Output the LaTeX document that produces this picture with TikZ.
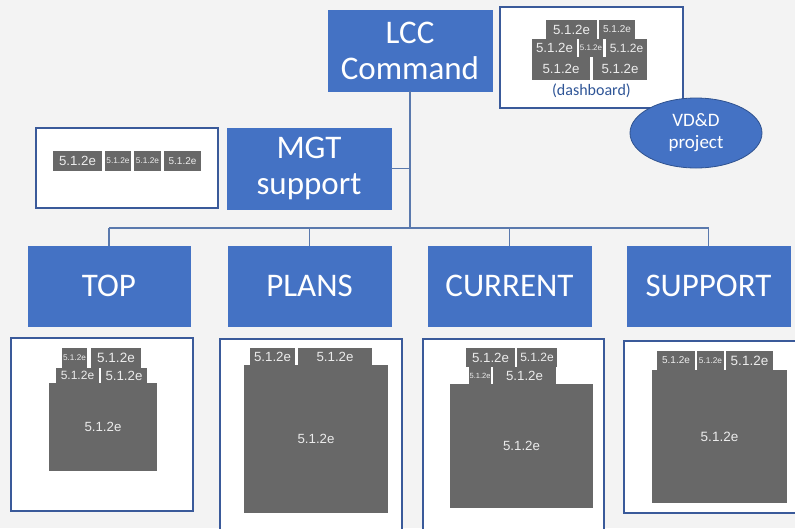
\documentclass[tikz,border=0pt]{standalone}
\usepackage{fontspec}
\setmainfont{Carlito}
\newfontfamily\arialf{Liberation Sans}
\usetikzlibrary{shapes.geometric}
\definecolor{bg}{HTML}{F3F3F3}
\definecolor{bl}{HTML}{4472C4}
\definecolor{bld}{HTML}{2F528F}
\definecolor{ln}{HTML}{5A79AD}
\definecolor{wbd}{HTML}{3A5A9A}
\definecolor{gb}{HTML}{686868}
\definecolor{gt}{HTML}{ECECEC}
\definecolor{dtxt}{HTML}{2F5597}
\tikzset{
  bluebox/.style={rectangle, fill=bl, draw=bl, text=white, inner sep=0pt, align=center,
    font=\fontsize{33}{36}\selectfont},
  whitebox/.style={rectangle, fill=white, draw=wbd, line width=1.2pt, inner sep=0pt},
  gblk/.style={rectangle, fill=gb, text=gt, inner sep=0pt},
  conn/.style={draw=ln, line width=1.2pt},
}
\newcommand{\gfs}[1]{\arialf\fontsize{#1}{#1}\selectfont}
\begin{document}
\begin{tikzpicture}[x=1pt,y=-1pt]
\useasboundingbox (0,0) rectangle (795,528);
\clip (0,0) rectangle (795,528);
\fill[bg] (0,0) rectangle (795,528);

% white panels
\node[whitebox, minimum width=183pt, minimum height=101pt] (dash) at (591.5,57.5) {};
\node[whitebox, minimum width=182pt, minimum height=80pt] (mgtw) at (127,168) {};
\node[whitebox, minimum width=182pt, minimum height=173pt] (topw) at (102,424.5) {};
\node[whitebox, minimum width=182pt, minimum height=201pt] (plw) at (311,439.5) {};
\node[whitebox, minimum width=181pt, minimum height=201pt] (cuw) at (513.5,439.5) {};
\node[whitebox, minimum width=176pt, minimum height=172pt] (suw) at (712,427) {};

% connectors
\coordinate (bus) at (410,228);
\node[bluebox, minimum width=164pt, minimum height=81pt] (lcc) at (410,50.5) {LCC\\Command};
\node[bluebox, minimum width=164pt, minimum height=81pt] (mgt) at (309,168.5) {MGT\\support};
\node[bluebox, minimum width=162pt, minimum height=80pt] (top) at (109,286) {TOP};
\node[bluebox, minimum width=163pt, minimum height=80pt] (plans) at (309.5,286) {PLANS};
\node[bluebox, minimum width=163pt, minimum height=80pt] (cur) at (509.5,286) {CURRENT};
\node[bluebox, minimum width=163pt, minimum height=80pt] (sup) at (708.5,286) {SUPPORT};

\draw[conn] (lcc.south) -- (bus);
\draw[conn] (mgt.east) -- (mgt.east -| lcc.south);
\draw[conn] (bus -| top.north) -- (bus -| sup.north);
\draw[conn] (bus -| top.north) -- (top.north);
\draw[conn] (bus -| plans.north) -- (plans.north);
\draw[conn] (bus -| cur.north) -- (cur.north);
\draw[conn] (bus -| sup.north) -- (sup.north);

% dashboard blocks
\node[gblk, minimum width=51pt, minimum height=19pt, font=\gfs{13.3}] (d1) at (571.5,29.5) {5.1.2e};
\node[gblk, minimum width=36pt, minimum height=19pt, font=\gfs{10}] (d2) at (617,29.5) {5.1.2e};
\node[gblk, minimum width=45pt, minimum height=18pt, font=\gfs{13.3}] (d3) at (554.5,48) {5.1.2e};
\node[gblk, minimum width=24pt, minimum height=18pt, font=\gfs{8}] (d4) at (591,48) {5.1.2e};
\node[gblk, minimum width=41pt, minimum height=18pt, font=\gfs{12}] (d5) at (626.5,48) {5.1.2e};
\node[gblk, minimum width=58pt, minimum height=23pt, font=\gfs{13.3}] (d6) at (561,68.5) {5.1.2e};
\node[gblk, minimum width=54pt, minimum height=23pt, font=\gfs{13.3}] (d7) at (620,68.5) {5.1.2e};
\node[text=dtxt, font=\fontsize{16}{16}\selectfont, inner sep=0pt] (dlbl) at (591.5,91) {(dashboard)};

% VD&D ellipse
\node[ellipse, fill=bl, draw=bld, line width=0.8pt, minimum width=132pt, minimum height=70pt,
  text=white, align=center, inner sep=0pt, font=\fontsize{19}{22}\selectfont] (vdd) at (696,133) {VD\&D\\project};

% MGT blocks
\node[gblk, minimum width=49pt, minimum height=20pt, font=\gfs{13.3}] (m1) at (77.5,161) {5.1.2e};
\node[gblk, minimum width=26pt, minimum height=20pt, font=\gfs{8.3}] (m2) at (118,161) {5.1.2e};
\node[gblk, minimum width=27pt, minimum height=20pt, font=\gfs{8.3}] (m3) at (147.5,161) {5.1.2e};
\node[gblk, minimum width=37pt, minimum height=20pt, font=\gfs{10}] (m4) at (182.5,161) {5.1.2e};

% TOP blocks
\node[gblk, minimum width=108pt, minimum height=88pt, font=\gfs{13.3}] (tb) at (103,427) {5.1.2e};
\node[gblk, minimum width=25pt, minimum height=20pt, font=\gfs{8.2}] (t1) at (74.5,358) {5.1.2e};
\node[gblk, minimum width=50pt, minimum height=20pt, font=\gfs{13.5}] (t2) at (116,358) {5.1.2e};
\node[gblk, minimum width=43pt, minimum height=15pt, font=\gfs{12}] (t3) at (77.5,375.5) {5.1.2e};
\node[gblk, minimum width=46pt, minimum height=15pt, font=\gfs{13.3}] (t4) at (124,375.5) {5.1.2e};

% PLANS blocks
\node[gblk, minimum width=144pt, minimum height=148pt, font=\gfs{13.3}] (pb) at (316,439) {5.1.2e};
\node[gblk, minimum width=45pt, minimum height=17pt, font=\gfs{13.3}] (p1) at (272.5,356.5) {5.1.2e};
\node[gblk, minimum width=74pt, minimum height=17pt, font=\gfs{13.3}] (p2) at (335,356.5) {5.1.2e};

% CURRENT blocks
\node[gblk, minimum width=143pt, minimum height=124pt, font=\gfs{13.3}] (cb) at (521.5,446) {5.1.2e};
\node[gblk, minimum width=49pt, minimum height=19pt, font=\gfs{13.3}] (c1) at (490.5,357.5) {5.1.2e};
\node[gblk, minimum width=40pt, minimum height=19pt, font=\gfs{12}] (c2) at (537,357.5) {5.1.2e};
\node[gblk, minimum width=22pt, minimum height=17pt, font=\gfs{7.5}] (c3) at (480,375.5) {5.1.2e};
\node[gblk, minimum width=63pt, minimum height=17pt, font=\gfs{13.3}] (c4) at (524.5,375.5) {5.1.2e};

% SUPPORT blocks
\node[gblk, minimum width=135pt, minimum height=133pt, font=\gfs{13.5}] (sb) at (719.5,436.5) {5.1.2e};
\node[gblk, minimum width=38pt, minimum height=19pt, font=\gfs{10}] (s1) at (676,360.5) {5.1.2e};
\node[gblk, minimum width=27pt, minimum height=19pt, font=\gfs{8.3}] (s2) at (710.5,360.5) {5.1.2e};
\node[gblk, minimum width=47pt, minimum height=19pt, font=\gfs{13.5}] (s3) at (749.5,360.5) {5.1.2e};
\end{tikzpicture}
\end{document}
